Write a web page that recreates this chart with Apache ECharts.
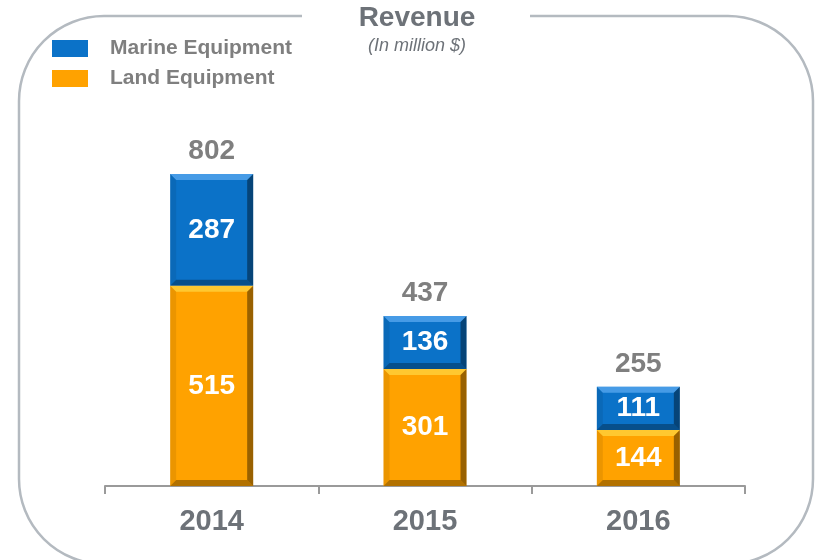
<!DOCTYPE html>
<html lang="en">
<head>
    <meta charset="UTF-8">
    <title>Revenue</title>
    <script src="https://cdn.jsdelivr.net/npm/echarts@6/dist/echarts.min.js"></script>
    <style>
        html, body { margin: 0; padding: 0; background: #fff; }
        #main { width: 817px; height: 560px; }
    </style>
</head>
<body>
    <div id="main"></div>
    <script type="text/javascript">
        // data
        var years = ['2014', '2015', '2016'];
        var marine = [287, 136, 111];
        var land = [515, 301, 144];
        var totals = [802, 437, 255];

        var font = "'Liberation Sans', Arial, sans-serif";
        var barW = 83;

        // segments for the bevel overlay: [category, from, to, series]
        var segs = [];
        for (var i = 0; i < years.length; i++) {
            segs.push([i, 0, land[i], 0]);
            segs.push([i, land[i], land[i] + marine[i], 1]);
        }
        var topTint = ['rgba(255,225,80,0.6)', 'rgba(120,190,255,0.55)'];

        // draws the bevelled edges on top of each bar segment
        function renderBevel(params, api) {
            var c = api.value(0);
            var top = api.coord([c, api.value(2)]);
            var bot = api.coord([c, api.value(1)]);
            var x0 = top[0] - barW / 2, x1 = top[0] + barW / 2;
            var yt = top[1], yb = bot[1];
            var b = 6;
            return {
                type: 'group',
                children: [
                    { type: 'polygon', shape: { points: [[x0, yt], [x1, yt], [x1 - b, yt + b], [x0 + b, yt + b]] },
                      style: { fill: topTint[api.value(3)] } },
                    { type: 'polygon', shape: { points: [[x1, yt], [x1, yb], [x1 - b, yb - b], [x1 - b, yt + b]] },
                      style: { fill: 'rgba(0,0,0,0.4)' } },
                    { type: 'polygon', shape: { points: [[x0, yb], [x1, yb], [x1 - b, yb - b], [x0 + b, yb - b]] },
                      style: { fill: 'rgba(0,0,0,0.3)' } },
                    { type: 'polygon', shape: { points: [[x0, yt], [x0, yb], [x0 + b, yb - b], [x0 + b, yt + b]] },
                      style: { fill: 'rgba(0,0,0,0.08)' } }
                ]
            };
        }

        var myChart = echarts.init(document.getElementById('main'));
        var option = {
            animation: false,
            textStyle: { fontFamily: font },
            graphic: [
                {
                    type: 'rect', z: 0, silent: true,
                    shape: { x: 19, y: 16, width: 794, height: 548, r: 85 },
                    style: { fill: 'none', stroke: '#b4bac0', lineWidth: 2.5 }
                },
                {
                    type: 'rect', z: 1, silent: true,
                    shape: { x: 302, y: 8, width: 228, height: 16 },
                    style: { fill: '#fff' }
                },
                {
                    type: 'text', z: 2, silent: true,
                    style: { text: 'Revenue', x: 417, y: 18, align: 'center', verticalAlign: 'middle',
                             font: 'bold 28px ' + font, fill: '#6d7278' }
                },
                {
                    type: 'text', z: 2, silent: true,
                    style: { text: '(In million $)', x: 417, y: 46, align: 'center', verticalAlign: 'middle',
                             font: 'italic 18px ' + font, fill: '#6d7278' }
                }
            ],
            legend: {
                data: ['Marine Equipment', 'Land Equipment'],
                orient: 'vertical',
                left: 52,
                top: 38,
                padding: 0,
                itemWidth: 36,
                itemHeight: 17,
                itemGap: 9,
                icon: 'rect',
                textStyle: { fontSize: 21, fontWeight: 'bold', color: '#7f7f7f', padding: [0, 0, 0, 17] }
            },
            grid: { left: 105, right: 72, top: 97, bottom: 74 },
            xAxis: {
                type: 'category',
                data: years,
                axisLine: { lineStyle: { color: '#9a9a9a', width: 2 } },
                axisTick: { show: true, length: 8, lineStyle: { color: '#9a9a9a', width: 2 } },
                axisLabel: { margin: 21, fontSize: 29, fontWeight: 'bold', color: '#6d7278' }
            },
            yAxis: { type: 'value', min: 0, max: 1000, show: false },
            series: [
                {
                    name: 'Land Equipment',
                    type: 'bar',
                    stack: 'rev',
                    barWidth: barW,
                    data: land,
                    itemStyle: { color: '#ffa200' },
                    label: { show: true, position: 'inside', fontSize: 28, fontWeight: 'bold', color: '#fff' }
                },
                {
                    name: 'Marine Equipment',
                    type: 'bar',
                    stack: 'rev',
                    barWidth: barW,
                    data: marine,
                    itemStyle: { color: '#0b72c8' },
                    label: { show: true, position: 'inside', fontSize: 28, fontWeight: 'bold', color: '#fff' }
                },
                {
                    name: 'Total',
                    type: 'bar',
                    stack: 'rev',
                    barWidth: barW,
                    data: [0, 0, 0],
                    itemStyle: { color: 'transparent' },
                    label: {
                        show: true, position: 'top', distance: 9,
                        fontSize: 28, fontWeight: 'bold', color: '#7f7f7f',
                        formatter: function (p) { return totals[p.dataIndex]; }
                    }
                },
                {
                    name: 'Bevel',
                    type: 'custom',
                    silent: true,
                    renderItem: renderBevel,
                    data: segs,
                    z: 3
                }
            ]
        };
        myChart.setOption(option);
    </script>
</body>
</html>
